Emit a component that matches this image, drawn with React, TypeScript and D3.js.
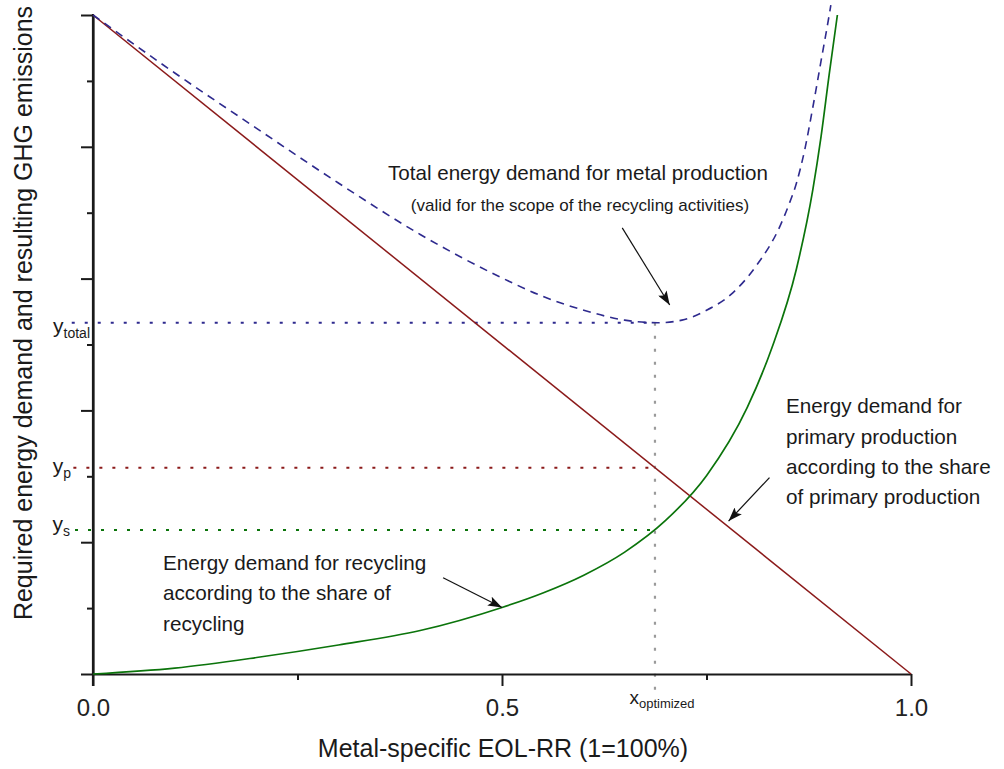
import React, { useEffect, useRef } from 'react'
import * as d3 from "d3";

// EOL-RR share (x) and normalised energy demand (y)
const primaryX = [0, 1];
const primaryY = [1, 0];

const recyclingX = [0, 0.1, 0.2, 0.3, 0.4, 0.5, 0.55, 0.6, 0.65, 0.7, 0.75, 0.8, 0.83, 0.86, 0.88, 0.89, 0.9, 0.91];
const recyclingY = [0, 0.009, 0.025, 0.044, 0.066, 0.101, 0.123, 0.15, 0.185, 0.233, 0.301, 0.405, 0.495, 0.615, 0.735, 0.815, 0.91, 1.0];

const totalX = [0, 0.1, 0.2, 0.3, 0.4, 0.5, 0.55, 0.6, 0.65, 0.69, 0.72, 0.75, 0.78, 0.81, 0.84, 0.85, 0.86, 0.87, 0.88, 0.89, 0.9, 0.902];
const totalY = [1.0, 0.912, 0.828, 0.745, 0.667, 0.601, 0.573, 0.552, 0.537, 0.533, 0.537, 0.552, 0.576, 0.618, 0.68, 0.71, 0.745, 0.795, 0.86, 0.93, 1.0, 1.015];

const majorXTicks = [0, 0.5, 1];
const minorXTicks = [0.25, 0.75];
const majorYTicks = [0, 0.2, 0.4, 0.6, 0.8, 1];
const minorYTicks = [0.1, 0.3, 0.5, 0.7, 0.9];

const xOptimized = 0.687;
const yTotal = 0.533;
const yP = 0.313;
const yS = 0.2185;

const width = 1004;
const height = 769;
const marginLeft = 93;
const marginRight = 93;
const marginTop = 15;
const marginBottom = 95;

const FONT = "'Liberation Sans', Arial, Helvetica, sans-serif";
const RED = '#8b1a1a';
const GREEN = '#0b740b';
const BLUE = '#2e2a8e';

export default function App() {
  const axisRef = useRef<SVGGElement | null>(null);

  const x = d3.scaleLinear().domain([0, 1]).range([marginLeft, width - marginRight]);
  const y = d3.scaleLinear().domain([0, 1]).range([height - marginBottom, marginTop]);

  useEffect(() => {
    document.body.style.margin = '0';
    const g = d3.select(axisRef.current);
    g.selectAll('*').remove();

    const bottom = height - marginBottom;

    // minor ticks first so major ones sit on top
    g.append('g')
      .attr('transform', `translate(0,${bottom})`)
      .call(d3.axisBottom(x).tickValues(minorXTicks).tickSize(6).tickFormat(() => '').tickSizeOuter(0))
      .call(s => s.select('.domain').remove());
    g.append('g')
      .attr('transform', `translate(${marginLeft},0)`)
      .call(d3.axisLeft(y).tickValues(minorYTicks).tickSize(6).tickFormat(() => '').tickSizeOuter(0))
      .call(s => s.select('.domain').remove());

    const xa = g.append('g')
      .attr('transform', `translate(0,${bottom})`)
      .call(d3.axisBottom(x).tickValues(majorXTicks).tickSize(12).tickPadding(13).tickFormat(d3.format('.1f')).tickSizeOuter(0));
    xa.selectAll('text').attr('font-size', 24).attr('font-family', FONT).attr('fill', '#222');

    g.append('g')
      .attr('transform', `translate(${marginLeft},0)`)
      .call(d3.axisLeft(y).tickValues(majorYTicks).tickSize(12).tickFormat(() => '').tickSizeOuter(0));

    g.selectAll('.domain').attr('stroke', '#1a1a1a').attr('stroke-width', 2.2);
    g.selectAll('.tick line').attr('stroke', '#1a1a1a').attr('stroke-width', 2);
    // vertical axis line
    g.append('line')
      .attr('x1', marginLeft).attr('x2', marginLeft)
      .attr('y1', marginTop - 1).attr('y2', bottom + 12)
      .attr('stroke', '#1a1a1a').attr('stroke-width', 2.2);
  }, []);

  const line = d3.line<[number, number]>()
    .x(d => x(d[0]))
    .y(d => y(d[1]))
    .curve(d3.curveMonotoneX);

  const zip = (a: number[], b: number[]) => a.map((v, i) => [v, b[i]] as [number, number]);

  const txt = { fontFamily: FONT, fill: '#1a1a1a' } as const;

  return (
    <svg width={width} height={height} style={{ display: 'block' }}>
      <defs>
        <marker id="arrow" viewBox="0 0 14 10" refX="14" refY="5" markerWidth="14" markerHeight="10" markerUnits="userSpaceOnUse" orient="auto">
          <path d="M0,0 L14,5 L0,10 L3,5 Z" fill="#111" />
        </marker>
      </defs>

      {/* reference lines */}
      <line x1={x(-0.026)} x2={x(xOptimized)} y1={y(yTotal)} y2={y(yTotal)} stroke={BLUE} strokeWidth={2} strokeDasharray="3 10" />
      <line x1={x(-0.024)} x2={x(xOptimized)} y1={y(yP)} y2={y(yP)} stroke={RED} strokeWidth={2} strokeDasharray="3 10" />
      <line x1={x(-0.022)} x2={x(xOptimized)} y1={y(yS)} y2={y(yS)} stroke={GREEN} strokeWidth={2} strokeDasharray="3 10" />
      <line x1={x(xOptimized)} x2={x(xOptimized)} y1={y(yTotal)} y2={y(-0.029)} stroke="#9a9a9a" strokeWidth={2.2} strokeDasharray="3 10" />

      <g ref={axisRef} />

      <path d={line(zip(primaryX, primaryY)) || ''} fill="none" stroke={RED} strokeWidth={1.5} />
      <path d={line(zip(recyclingX, recyclingY)) || ''} fill="none" stroke={GREEN} strokeWidth={1.7} />
      <path d={line(zip(totalX, totalY)) || ''} fill="none" stroke={BLUE} strokeWidth={1.6} strokeDasharray="8 6" />

      {/* arrows */}
      <line x1={x(0.647)} y1={y(0.677)} x2={x(0.705)} y2={y(0.56)} stroke="#111" strokeWidth={1.2} markerEnd="url(#arrow)" />
      <line x1={x(0.428)} y1={y(0.146)} x2={x(0.5)} y2={y(0.101)} stroke="#111" strokeWidth={1.2} markerEnd="url(#arrow)" />
      <line x1={x(0.827)} y1={y(0.298)} x2={x(0.777)} y2={y(0.232)} stroke="#111" strokeWidth={1.2} markerEnd="url(#arrow)" />

      {/* annotations */}
      <text {...txt} x={578} y={180} fontSize={20.6} textAnchor="middle">Total energy demand for metal production</text>
      <text {...txt} x={580} y={211} fontSize={17} textAnchor="middle">(valid for the scope of the recycling activities)</text>

      <text {...txt} fontSize={20.7}>
        <tspan x={786} y={413}>Energy demand for</tspan>
        <tspan x={786} y={444}>primary production</tspan>
        <tspan x={786} y={474}>according to the share</tspan>
        <tspan x={786} y={504}>of primary production</tspan>
      </text>

      <text {...txt} fontSize={20.7}>
        <tspan x={163} y={570}>Energy demand for recycling</tspan>
        <tspan x={163} y={600}>according to the share of</tspan>
        <tspan x={163} y={631}>recycling</tspan>
      </text>

      {/* level labels */}
      <text {...txt} x={90} y={333} fontSize={21} textAnchor="end">y<tspan fontSize={14} dy={5}>total</tspan></text>
      <text {...txt} x={71} y={473} fontSize={21} textAnchor="end">y<tspan fontSize={14} dy={5}>p</tspan></text>
      <text {...txt} x={70} y={531} fontSize={21} textAnchor="end">y<tspan fontSize={14} dy={5}>s</tspan></text>
      <text {...txt} x={662} y={704} fontSize={19} textAnchor="middle">x<tspan fontSize={13} dy={4}>optimized</tspan></text>

      {/* axis titles */}
      <text {...txt} x={503} y={757} fontSize={25} textAnchor="middle">Metal-specific EOL-RR (1=100%)</text>
      <text {...txt} transform={`translate(32,${313}) rotate(-90)`} fontSize={25} textAnchor="middle">Required energy demand and resulting GHG emissions</text>
    </svg>
  )
}
